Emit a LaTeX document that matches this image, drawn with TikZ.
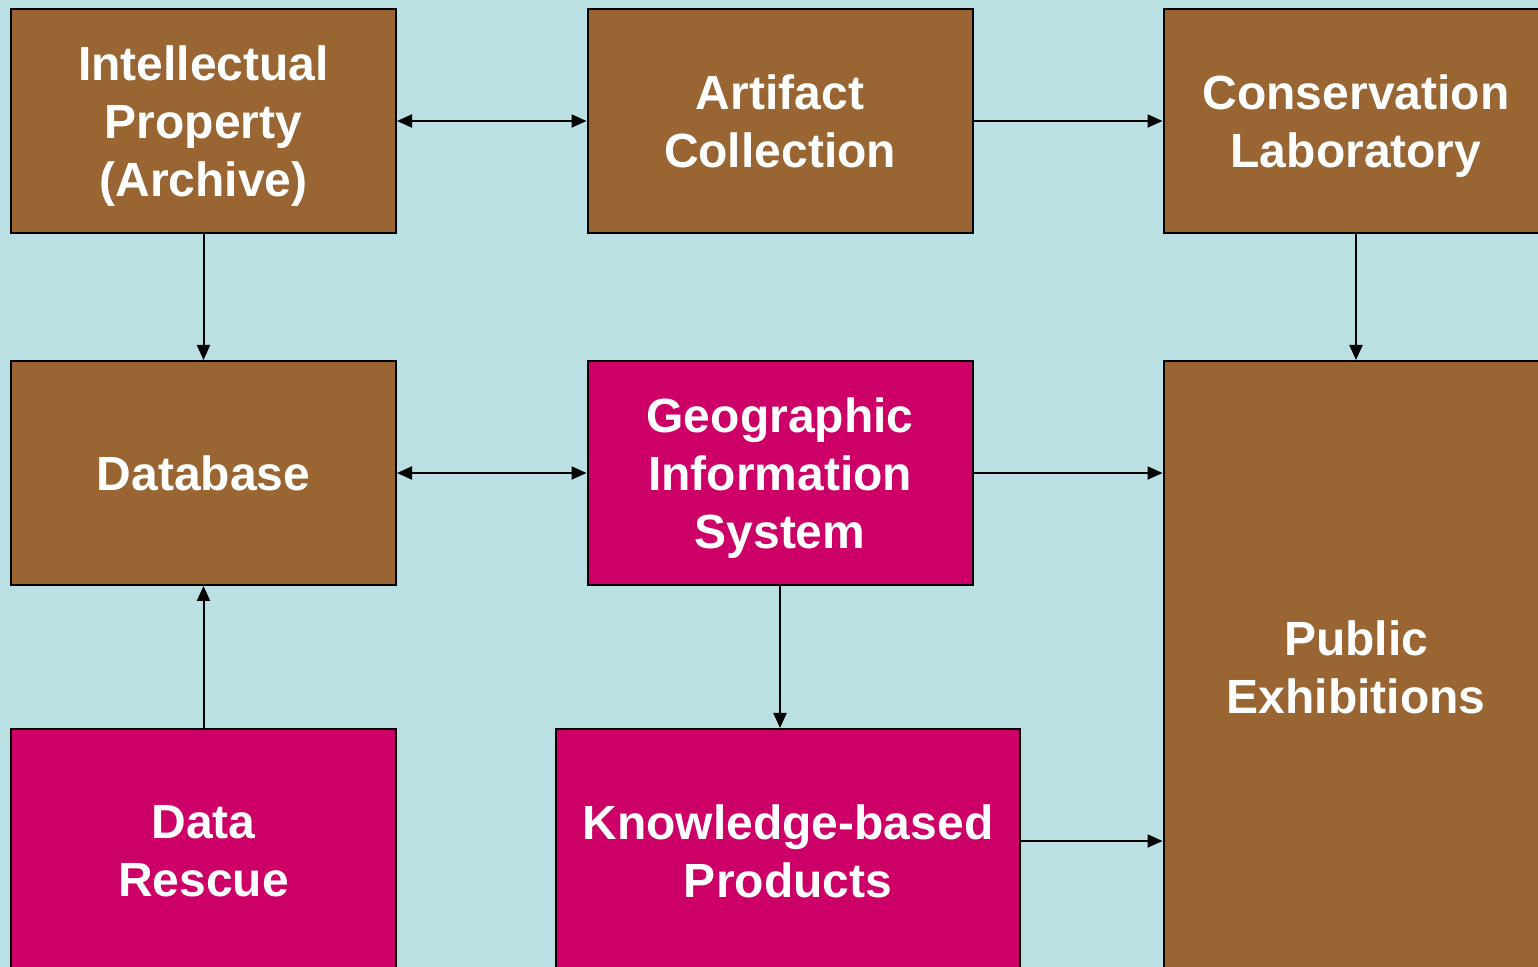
\documentclass[tikz,border=0pt]{standalone}
\usepackage{fontspec}
\setmainfont{Liberation Sans}
\usepackage{tikz}
\usetikzlibrary{arrows.meta}

\definecolor{bgblue}{RGB}{186,224,227}
\definecolor{boxbrown}{RGB}{153,102,51}
\definecolor{boxpink}{RGB}{204,0,102}

\tikzset{
  box/.style={draw=black, line width=1pt, text=white, align=center,
    font=\fontsize{24pt}{29pt}\selectfont\bfseries, text depth=0pt,
    inner sep=0pt, minimum width=192.5pt, minimum height=112pt},
  brownbox/.style={box, fill=boxbrown},
  pinkbox/.style={box, fill=boxpink},
  arr/.style={line width=1pt, -{Triangle[length=7.5pt,width=6.5pt]}},
  biarr/.style={line width=1pt, {Triangle[length=7.5pt,width=6.5pt]}-{Triangle[length=7.5pt,width=6.5pt]}}
}

\begin{document}
\begin{tikzpicture}[x=0.5pt,y=-0.5pt]
  % Background
  \fill[bgblue] (0,0) rectangle (1538,967);
  \useasboundingbox (0,0) rectangle (1538,967);
  \clip (0,0) rectangle (1538,967);
  % Top row
  \node[brownbox] (ip) at (203.5,121) {Intellectual\\Property\\(Archive)};
  \node[brownbox] (artifact) at (780,121) {Artifact\\Collection};
  \node[brownbox] (conlab) at (1356,121) {Conservation\\Laboratory};
  % Middle row
  \node[brownbox] (db) at (203.5,473) {Database};
  \node[pinkbox] (gis) at (780,473) {Geographic\\Information\\System};
  \node[brownbox, minimum height=306pt] (pubex) at (1356,667) {Public\\Exhibitions};
  % Bottom row
  \node[pinkbox, minimum height=122pt] (rescue) at (203.5,851) {Data\\Rescue};
  \node[pinkbox, minimum width=232pt, minimum height=122pt] (kbp) at (788,851) {Knowledge-based\\Products};
  % Connectors
  \draw[biarr] (ip) -- (artifact);
  \draw[arr] (artifact) -- (conlab);
  \draw[arr] (ip) -- (db);
  \draw[arr] (conlab) -- (pubex);
  \draw[biarr] (db) -- (gis);
  \draw[arr] (gis.east) -- (gis.east -| pubex.west);
  \draw[arr] (gis.south) -- (gis.south |- kbp.north);
  \draw[arr] (rescue) -- (db);
  \draw[arr] ([yshift=5pt]kbp.east) -- ([yshift=5pt]kbp.east -| pubex.west);
\end{tikzpicture}
\end{document}
